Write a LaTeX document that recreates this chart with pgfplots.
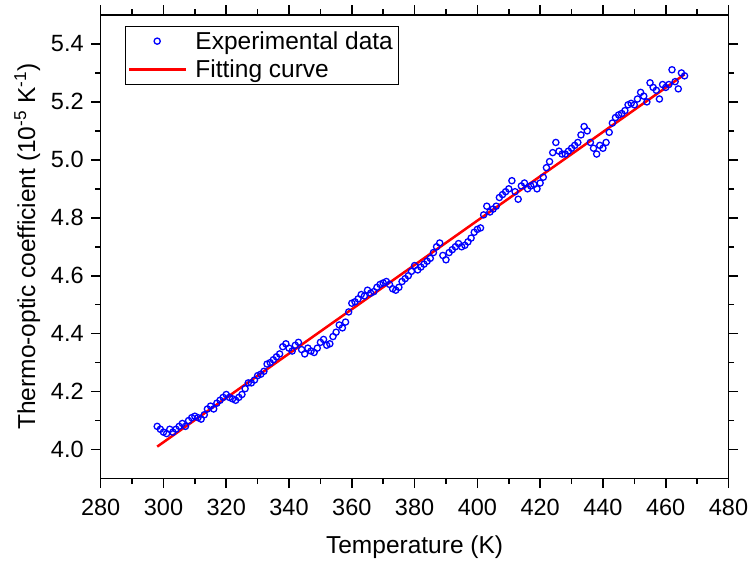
\documentclass[border=0pt]{standalone}
\usepackage{pgfplots}
\usepackage{pgfplotstable}
\pgfplotsset{compat=1.18}
\usepackage{fontspec}
\setmainfont{Liberation Sans}
\definecolor{dblue}{RGB}{0,0,255}
\definecolor{dred}{RGB}{255,0,0}
\pgfplotsset{
  marklegend/.style={legend image code/.code={\draw[##1] plot coordinates {(28pt,0pt)};}},
  linelegend/.style={legend image code/.code={\draw[##1] (0pt,0pt) -- (57pt,0pt);}},
}
\pgfplotstableread{
x y
298 4.08
299 4.07
300 4.06
301 4.055
302 4.07
303 4.06
304 4.07
305 4.08
306 4.09
307 4.08
308 4.10
309 4.11
310 4.115
311 4.11
312 4.105
313 4.12
314 4.14
315 4.15
316 4.14
317 4.16
318 4.17
319 4.18
320 4.19
321 4.18
322 4.175
323 4.17
324 4.18
325 4.19
326 4.21
327 4.23
328 4.23
329 4.24
330 4.255
331 4.26
332 4.27
333 4.295
334 4.30
335 4.31
336 4.32
337 4.33
338 4.355
339 4.365
340 4.35
341 4.34
342 4.36
343 4.37
344 4.345
345 4.33
346 4.35
347 4.34
348 4.335
349 4.35
350 4.37
351 4.38
352 4.36
353 4.365
354 4.39
355 4.405
356 4.43
357 4.42
358 4.44
359 4.475
360 4.505
361 4.51
362 4.52
363 4.535
364 4.53
365 4.55
366 4.54
367 4.545
368 4.56
369 4.57
370 4.575
371 4.58
372 4.57
373 4.555
374 4.55
375 4.56
376 4.58
377 4.59
378 4.60
379 4.615
380 4.635
381 4.62
382 4.63
383 4.64
384 4.65
385 4.66
386 4.68
387 4.70
388 4.713
389 4.67
390 4.655
391 4.68
392 4.69
393 4.70
394 4.711
395 4.70
396 4.705
397 4.717
398 4.73
399 4.75
400 4.76
401 4.765
402 4.81
403 4.84
404 4.82
405 4.83
406 4.84
407 4.87
408 4.88
409 4.89
410 4.90
411 4.928
412 4.89
413 4.864
414 4.91
415 4.92
416 4.90
417 4.91
418 4.915
419 4.90
420 4.92
421 4.94
422 4.973
423 4.994
424 5.025
425 5.06
426 5.03
427 5.02
428 5.02
429 5.03
430 5.04
431 5.05
432 5.06
433 5.086
434 5.115
435 5.10
436 5.06
437 5.04
438 5.02
439 5.05
440 5.04
441 5.06
442 5.095
443 5.127
444 5.146
445 5.155
446 5.16
447 5.17
448 5.19
449 5.195
450 5.19
451 5.21
452 5.233
453 5.22
454 5.20
455 5.266
456 5.25
457 5.24
458 5.21
459 5.26
460 5.25
461 5.26
462 5.311
463 5.27
464 5.245
465 5.30
466 5.29
}\expdata
\begin{document}
\begin{tikzpicture}
\useasboundingbox (-100.7pt,-86.5pt) rectangle (647.3pt,478.5pt);
\begin{axis}[
  at={(0pt,0pt)}, anchor=south west,
  scale only axis,
  width=627.8pt, height=463.5pt,
  xmin=280, xmax=480, ymin=3.9, ymax=5.5,
  xtick={280,300,...,480},
  ytick={4.0,4.2,...,5.41},
  minor x tick num=1, minor y tick num=1,
  xticklabel pos=lower, yticklabel pos=left,
  xtick pos=both, ytick pos=both,
  xtick align=outside, ytick align=outside,
  major tick length=9.5pt, minor tick length=5.5pt,
  every tick/.style={black, line width=1.6pt},
  axis line style={line width=1.6pt},
  /pgf/number format/assume math mode=true,
  ticklabel style={font=\fontsize{23.5}{28}\selectfont},
  xticklabel style={yshift=-8pt},
  yticklabel style={xshift=-4pt, /pgf/number format/.cd, fixed, fixed zerofill, precision=1},
  label style={font=\fontsize{24.5}{29}\selectfont},
  xlabel={Temperature (K)},
  ylabel={Thermo-optic coefficient (10\textsuperscript{-5} K\textsuperscript{-1})},
  xlabel style={yshift=-13pt},
  ylabel style={yshift=4pt},
  legend style={at={(0.038,0.976)}, anchor=north west, draw=black, line width=0.8pt,
    font=\fontsize{24.5}{29}\selectfont, inner xsep=3pt, inner ysep=3pt,
    row sep=5pt,
    /tikz/every odd column/.append style={column sep=6pt}},
  legend cell align=left,
]
\addplot[only marks, mark=o, mark size=3.1pt, dblue, mark options={line width=1.3pt}, marklegend]
  table[x=x,y=y]{\expdata};
\addlegendentry{Experimental data}
\addplot[dred, line width=2.5pt, linelegend]
  coordinates {(298,4.01) (466,5.295)};
\addlegendentry{Fitting curve}
\end{axis}
\end{tikzpicture}
\end{document}
